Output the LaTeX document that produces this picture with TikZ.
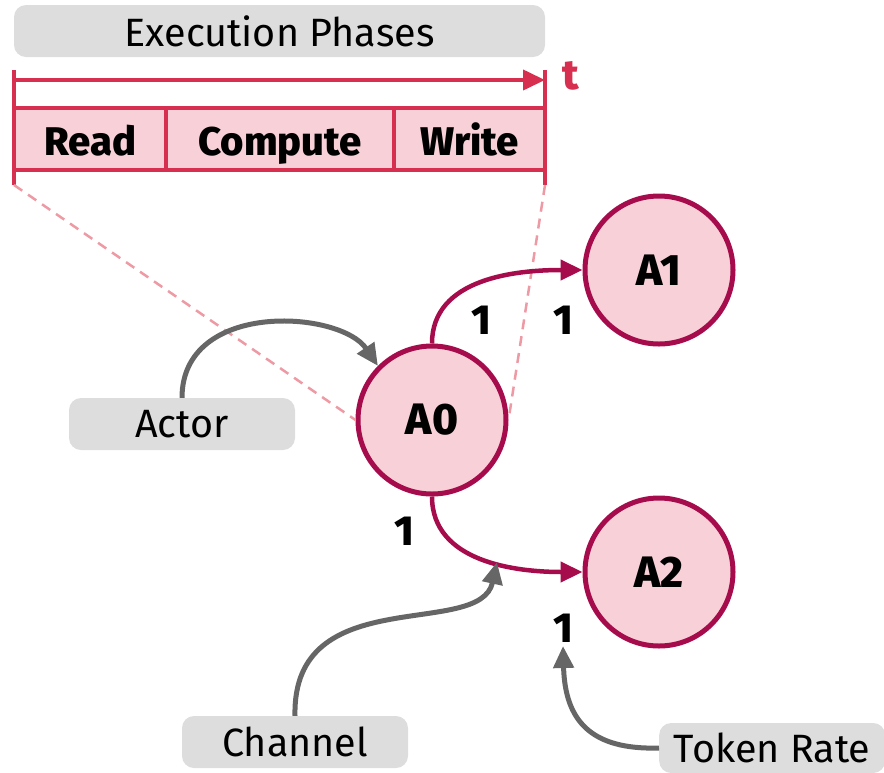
\documentclass[tikz,border=0pt]{standalone}
\usepackage{fontspec}
\setmainfont{Fira Sans}
\newfontfamily\heavy{Fira Sans ExtraBold}
\usetikzlibrary{arrows.meta}
\definecolor{tl}{HTML}{D62F50}
\definecolor{edge}{HTML}{A60B4C}
\definecolor{pinkf}{HTML}{F7D1D7}
\definecolor{grayarr}{HTML}{666666}
\definecolor{grayb}{HTML}{DDDDDD}
\definecolor{dashp}{HTML}{EE9AA5}
\tikzset{
  lbl/.style={fill=grayb, rounded corners=12pt, inner sep=0pt, font=\fontsize{39.5}{40}\selectfont},
  actor/.style={circle, draw=edge, fill=pinkf, line width=5pt, minimum size=148pt, inner sep=0pt, font=\fontsize{44}{44}\selectfont\heavy},
  phase/.style={draw=tl, fill=pinkf, line width=4pt, minimum height=62pt, inner sep=0pt, text height=34pt, text depth=2pt, font=\fontsize{40}{40}\selectfont\heavy},
  flow/.style={draw=edge, line width=4.5pt, -{Triangle[length=22pt,width=20pt]}},
  ann/.style={draw=grayarr, line width=5pt, -{Triangle[length=22pt,width=20pt]}},
  rate/.style={font=\fontsize{42}{42}\selectfont\heavy},
  guide/.style={draw=dashp, line width=2.5pt, dash pattern=on 10pt off 7pt}
}
\begin{document}
\begin{tikzpicture}[x=1pt,y=-1pt]
\useasboundingbox (0,0) rectangle (884,772);
% header
\node[lbl, minimum width=531pt, minimum height=52pt] (hdr) at (279.5,31) {Execution Phases};
% phases
\node[phase, minimum width=152pt] (read) at (90,139) {Read};
\node[phase, minimum width=228pt] (comp) at (280,139) {Compute};
\node[phase, minimum width=151pt] (write) at (469.5,139) {Write};
% ticks
\coordinate (tl0) at (14,70);
\coordinate (tl1) at (14,185);
\coordinate (tr0) at (545,70);
\coordinate (tr1) at (545,185);
\draw[tl, line width=4pt] (tl0) -- (tl1);
\draw[tl, line width=4pt] (tr0) -- (tr1);
\coordinate (al) at (14,80);
\coordinate (ar) at (545,80);
\draw[tl, line width=4pt, -{Triangle[length=22pt,width=20pt]}] (al) -- (ar);
\node[text=tl, font=\fontsize{42}{42}\selectfont\heavy] (t) at (571,76) {t};
% actors
\node[actor] (A0) at (432,420) {A0};
\node[actor] (A1) at (659,270) {A1};
\node[actor] (A2) at (659,572) {A2};
% guides
\draw[guide] (tl1) -- (A0.west);
\draw[guide] (tr1) -- (A0.east);
% flows
\draw[flow] (A0.north) to[out=90,in=180] (A1.west);
\draw[flow] (A0.south) to[out=-90,in=180] (A2.west);
\node[rate] (r1) at (481,320) {1};
\node[rate] (r2) at (563,320) {1};
\node[rate] (r3) at (404,531) {1};
\node[rate] (r4) at (563,628) {1};
% annotations
\node[lbl, minimum width=226pt, minimum height=52pt] (actorl) at (182,424) {Actor};
\node[lbl, minimum width=226pt, minimum height=52pt] (chan) at (295,742) {Channel};
\node[lbl, minimum width=226pt, minimum height=50pt, anchor=west] (tok) at (659,748) {Token Rate};
\coordinate (ca) at (497,562);
\coordinate (ta) at (563,646);
\draw[ann] (actorl.north) .. controls (182,300) and (340,310) .. (A0.135);
\draw[ann] (chan.north) .. controls (292,580) and (480,640) .. (ca);
\draw[ann] (tok.west) .. controls (590,750) and (565,720) .. (ta);
\end{tikzpicture}
\end{document}
